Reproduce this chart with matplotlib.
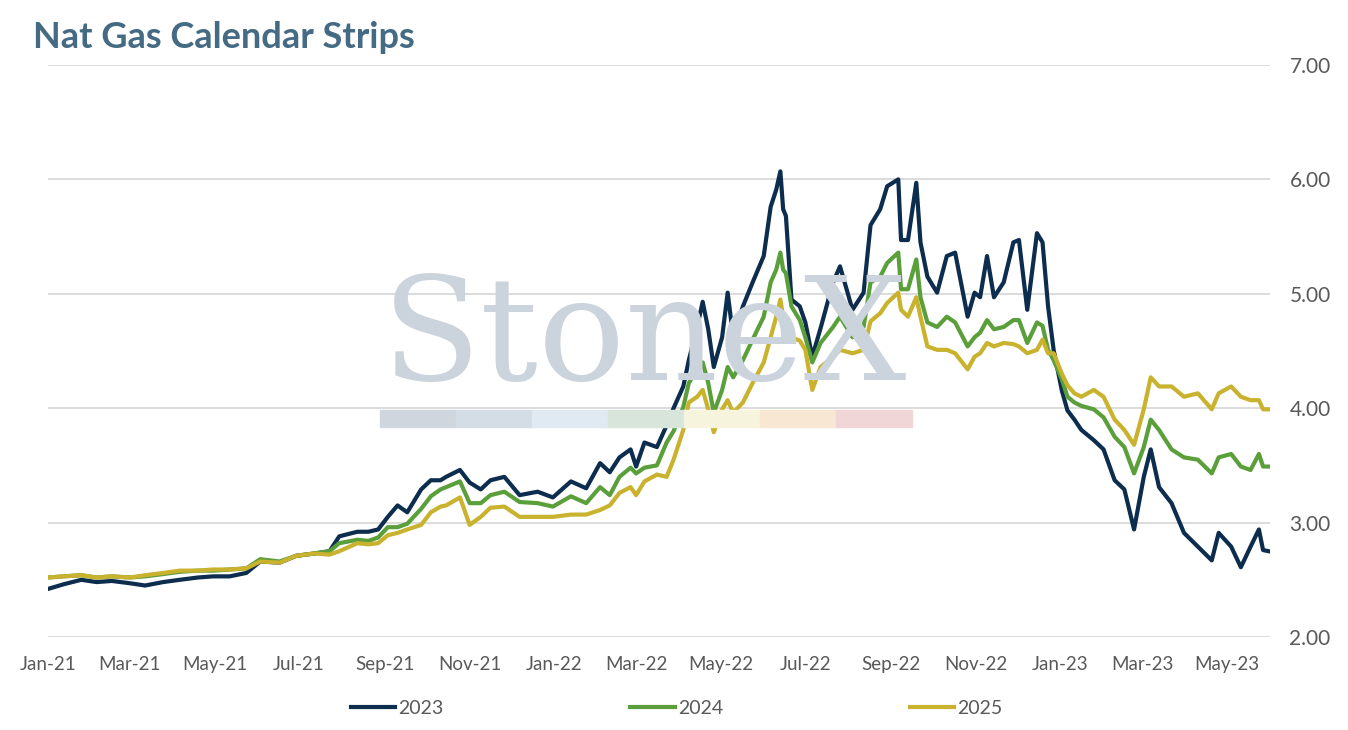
import matplotlib
matplotlib.use("Agg")
import matplotlib.pyplot as plt
import matplotlib.dates as mdates
from matplotlib.patches import Rectangle
import pandas as pd

# trade dates
dates = pd.to_datetime([
    "2021-01-01", "2021-01-12", "2021-01-25", "2021-02-05", "2021-02-16", "2021-03-01",
    "2021-03-12", "2021-03-25", "2021-04-06", "2021-04-19", "2021-04-30", "2021-05-12",
    "2021-05-24", "2021-06-03", "2021-06-17", "2021-06-29", "2021-07-12", "2021-07-23",
    "2021-07-30", "2021-08-12", "2021-08-20", "2021-08-27", "2021-09-03", "2021-09-10",
    "2021-09-17", "2021-09-27", "2021-10-04", "2021-10-11", "2021-10-15", "2021-10-25",
    "2021-11-01", "2021-11-09", "2021-11-16", "2021-11-26", "2021-12-07", "2021-12-20",
    "2021-12-31", "2022-01-13", "2022-01-24", "2022-02-03", "2022-02-10", "2022-02-17",
    "2022-02-25", "2022-03-01", "2022-03-07", "2022-03-16", "2022-03-23", "2022-03-28",
    "2022-04-04", "2022-04-08", "2022-04-14", "2022-04-18", "2022-04-22", "2022-04-26",
    "2022-05-02", "2022-05-06", "2022-05-10", "2022-05-17", "2022-05-24", "2022-06-01",
    "2022-06-06", "2022-06-10", "2022-06-13", "2022-06-15", "2022-06-17", "2022-06-21",
    "2022-06-27", "2022-07-01", "2022-07-06", "2022-07-12", "2022-07-21", "2022-07-26",
    "2022-08-04", "2022-08-12", "2022-08-17", "2022-08-24", "2022-08-29", "2022-09-06",
    "2022-09-08", "2022-09-13", "2022-09-19", "2022-09-22", "2022-09-27", "2022-10-04",
    "2022-10-11", "2022-10-17", "2022-10-26", "2022-10-31", "2022-11-04", "2022-11-09",
    "2022-11-14", "2022-11-21", "2022-11-28", "2022-12-02", "2022-12-08", "2022-12-15",
    "2022-12-19", "2022-12-23", "2022-12-27", "2023-01-02", "2023-01-06", "2023-01-11",
    "2023-01-16", "2023-01-25", "2023-02-01", "2023-02-09", "2023-02-16", "2023-02-23",
    "2023-03-02", "2023-03-07", "2023-03-13", "2023-03-22", "2023-03-31", "2023-04-10",
    "2023-04-20", "2023-04-25", "2023-05-04", "2023-05-11", "2023-05-18", "2023-05-24",
    "2023-05-27", "2023-05-31",
])

strip_2023 = [
    2.42, 2.46, 2.50, 2.48, 2.49, 2.47, 2.45, 2.48, 2.50, 2.52, 2.53, 2.53,
    2.56, 2.66, 2.65, 2.71, 2.73, 2.75, 2.88, 2.92, 2.92, 2.94, 3.05, 3.15,
    3.09, 3.29, 3.37, 3.37, 3.40, 3.46, 3.35, 3.29, 3.37, 3.40, 3.24, 3.27,
    3.22, 3.36, 3.30, 3.52, 3.44, 3.57, 3.64, 3.49, 3.70, 3.66, 3.85, 4.00,
    4.19, 4.42, 4.71, 4.93, 4.69, 4.36, 4.62, 5.01, 4.62, 4.89, 5.10, 5.33,
    5.76, 5.91, 6.07, 5.74, 5.68, 4.95, 4.89, 4.75, 4.45, 4.70, 5.10, 5.24,
    4.86, 5.01, 5.60, 5.74, 5.94, 6.00, 5.47, 5.47, 5.97, 5.45, 5.15, 5.01,
    5.33, 5.36, 4.80, 5.01, 4.97, 5.33, 4.97, 5.10, 5.45, 5.47, 4.86, 5.53,
    5.45, 4.89, 4.51, 4.15, 3.98, 3.90, 3.81, 3.72, 3.64, 3.37, 3.29, 2.94,
    3.40, 3.64, 3.31, 3.17, 2.91, 2.79, 2.67, 2.91, 2.79, 2.61, 2.79, 2.94,
    2.76, 2.75,
]

strip_2024 = [
    2.52, 2.53, 2.54, 2.52, 2.53, 2.52, 2.53, 2.55, 2.57, 2.58, 2.58, 2.59,
    2.60, 2.68, 2.66, 2.71, 2.73, 2.75, 2.82, 2.85, 2.84, 2.87, 2.96, 2.96,
    2.99, 3.12, 3.23, 3.29, 3.31, 3.36, 3.17, 3.17, 3.24, 3.27, 3.18, 3.17,
    3.14, 3.23, 3.17, 3.31, 3.24, 3.40, 3.48, 3.43, 3.48, 3.50, 3.70, 3.80,
    4.01, 4.22, 4.34, 4.40, 4.22, 3.96, 4.16, 4.36, 4.27, 4.42, 4.60, 4.80,
    5.10, 5.21, 5.36, 5.21, 5.18, 4.89, 4.77, 4.62, 4.40, 4.57, 4.71, 4.80,
    4.62, 4.71, 5.10, 5.15, 5.27, 5.36, 5.04, 5.04, 5.30, 4.97, 4.75, 4.71,
    4.80, 4.75, 4.54, 4.62, 4.66, 4.77, 4.69, 4.71, 4.77, 4.77, 4.57, 4.75,
    4.72, 4.51, 4.42, 4.25, 4.10, 4.05, 4.02, 3.99, 3.92, 3.75, 3.66, 3.43,
    3.66, 3.90, 3.81, 3.64, 3.57, 3.55, 3.43, 3.57, 3.60, 3.49, 3.46, 3.60,
    3.49, 3.49,
]

strip_2025 = [
    2.52, 2.53, 2.54, 2.52, 2.53, 2.52, 2.54, 2.56, 2.58, 2.58, 2.59, 2.59,
    2.60, 2.66, 2.65, 2.71, 2.73, 2.72, 2.75, 2.82, 2.81, 2.82, 2.89, 2.91,
    2.94, 2.98, 3.09, 3.14, 3.15, 3.22, 2.98, 3.05, 3.13, 3.14, 3.05, 3.05,
    3.05, 3.07, 3.07, 3.11, 3.15, 3.26, 3.31, 3.24, 3.36, 3.42, 3.40, 3.55,
    3.81, 4.05, 4.10, 4.16, 3.99, 3.79, 3.99, 4.07, 3.96, 4.05, 4.22, 4.40,
    4.62, 4.80, 4.95, 4.80, 4.80, 4.62, 4.59, 4.51, 4.16, 4.36, 4.45, 4.51,
    4.48, 4.51, 4.76, 4.83, 4.92, 5.01, 4.86, 4.80, 4.97, 4.80, 4.54, 4.51,
    4.51, 4.48, 4.34, 4.45, 4.48, 4.57, 4.54, 4.57, 4.56, 4.54, 4.48, 4.51,
    4.60, 4.48, 4.48, 4.30, 4.20, 4.13, 4.10, 4.16, 4.10, 3.90, 3.81, 3.68,
    3.99, 4.27, 4.19, 4.19, 4.10, 4.13, 3.99, 4.13, 4.19, 4.10, 4.07, 4.07,
    3.99, 3.99,
]

series_names = ["2023", "2024", "2025"]
series_colors = ["#0c2d4e", "#5a9f3a", "#c8b22e"]
y_ticks = [2.0, 3.0, 4.0, 5.0, 6.0, 7.0]

plt.rcParams['font.family'] = ['Lato', 'DejaVu Sans']

fig = plt.figure(figsize=(13.48, 7.30), dpi=100)
ax = fig.add_axes([48 / 1348, 93 / 730, 1222 / 1348, 572 / 730])

# StoneX watermark
fig.text(645 / 1348, 1 - 380 / 730, "StoneX", family="DejaVu Serif", fontsize=104,
         color="#cbd3dc", ha="center", va="baseline", zorder=0)
wm_cols = ["#cfd6de", "#d4dce5", "#dfeaf2", "#d8e5da", "#f6f4dc", "#f8e8d3", "#f0d6d6"]
for i, c in enumerate(wm_cols):
    fig.patches.append(Rectangle(((380 + i * 76) / 1348, (730 - 427) / 730), 76 / 1348, 17 / 730,
                                 transform=fig.transFigure, color=c, zorder=0))
ax.patch.set_alpha(0)

for vals, name, col in zip([strip_2023, strip_2024, strip_2025], series_names, series_colors):
    ax.plot(dates, vals, color=col, lw=3.0, label=name, solid_joinstyle="round")

ax.set_ylim(2.0, 7.0)
ax.set_yticks(y_ticks)
ax.yaxis.set_major_formatter(plt.FuncFormatter(lambda v, p: f"{v:.2f}"))
ax.yaxis.tick_right()
ax.set_xlim(dates[0], pd.Timestamp("2023-06-01"))
ax.xaxis.set_major_locator(mdates.MonthLocator(bymonth=[1, 3, 5, 7, 9, 11]))
ax.xaxis.set_major_formatter(mdates.DateFormatter("%b-%y"))
ax.tick_params(axis="both", length=0, colors="#595959")
ax.tick_params(axis="y", pad=14, labelsize=15)
ax.tick_params(axis="x", pad=14, labelsize=13.5)
ax.grid(axis="y", color="#d9d9d9", lw=1.3)
ax.set_axisbelow(True)
for s in ax.spines.values():
    s.set_visible(False)

fig.text(33 / 1348, 1 - 37 / 730, "Nat Gas Calendar Strips", fontsize=26, fontweight="bold",
         color="#456a84", ha="left", va="center")

fig.legend(loc="center", bbox_to_anchor=(0.502, 1 - 708 / 730), ncol=3, frameon=False,
           fontsize=14, handlelength=2.3, handletextpad=0.15, columnspacing=9.6,
           labelcolor="#595959")

fig.savefig("out.png", dpi=100)
